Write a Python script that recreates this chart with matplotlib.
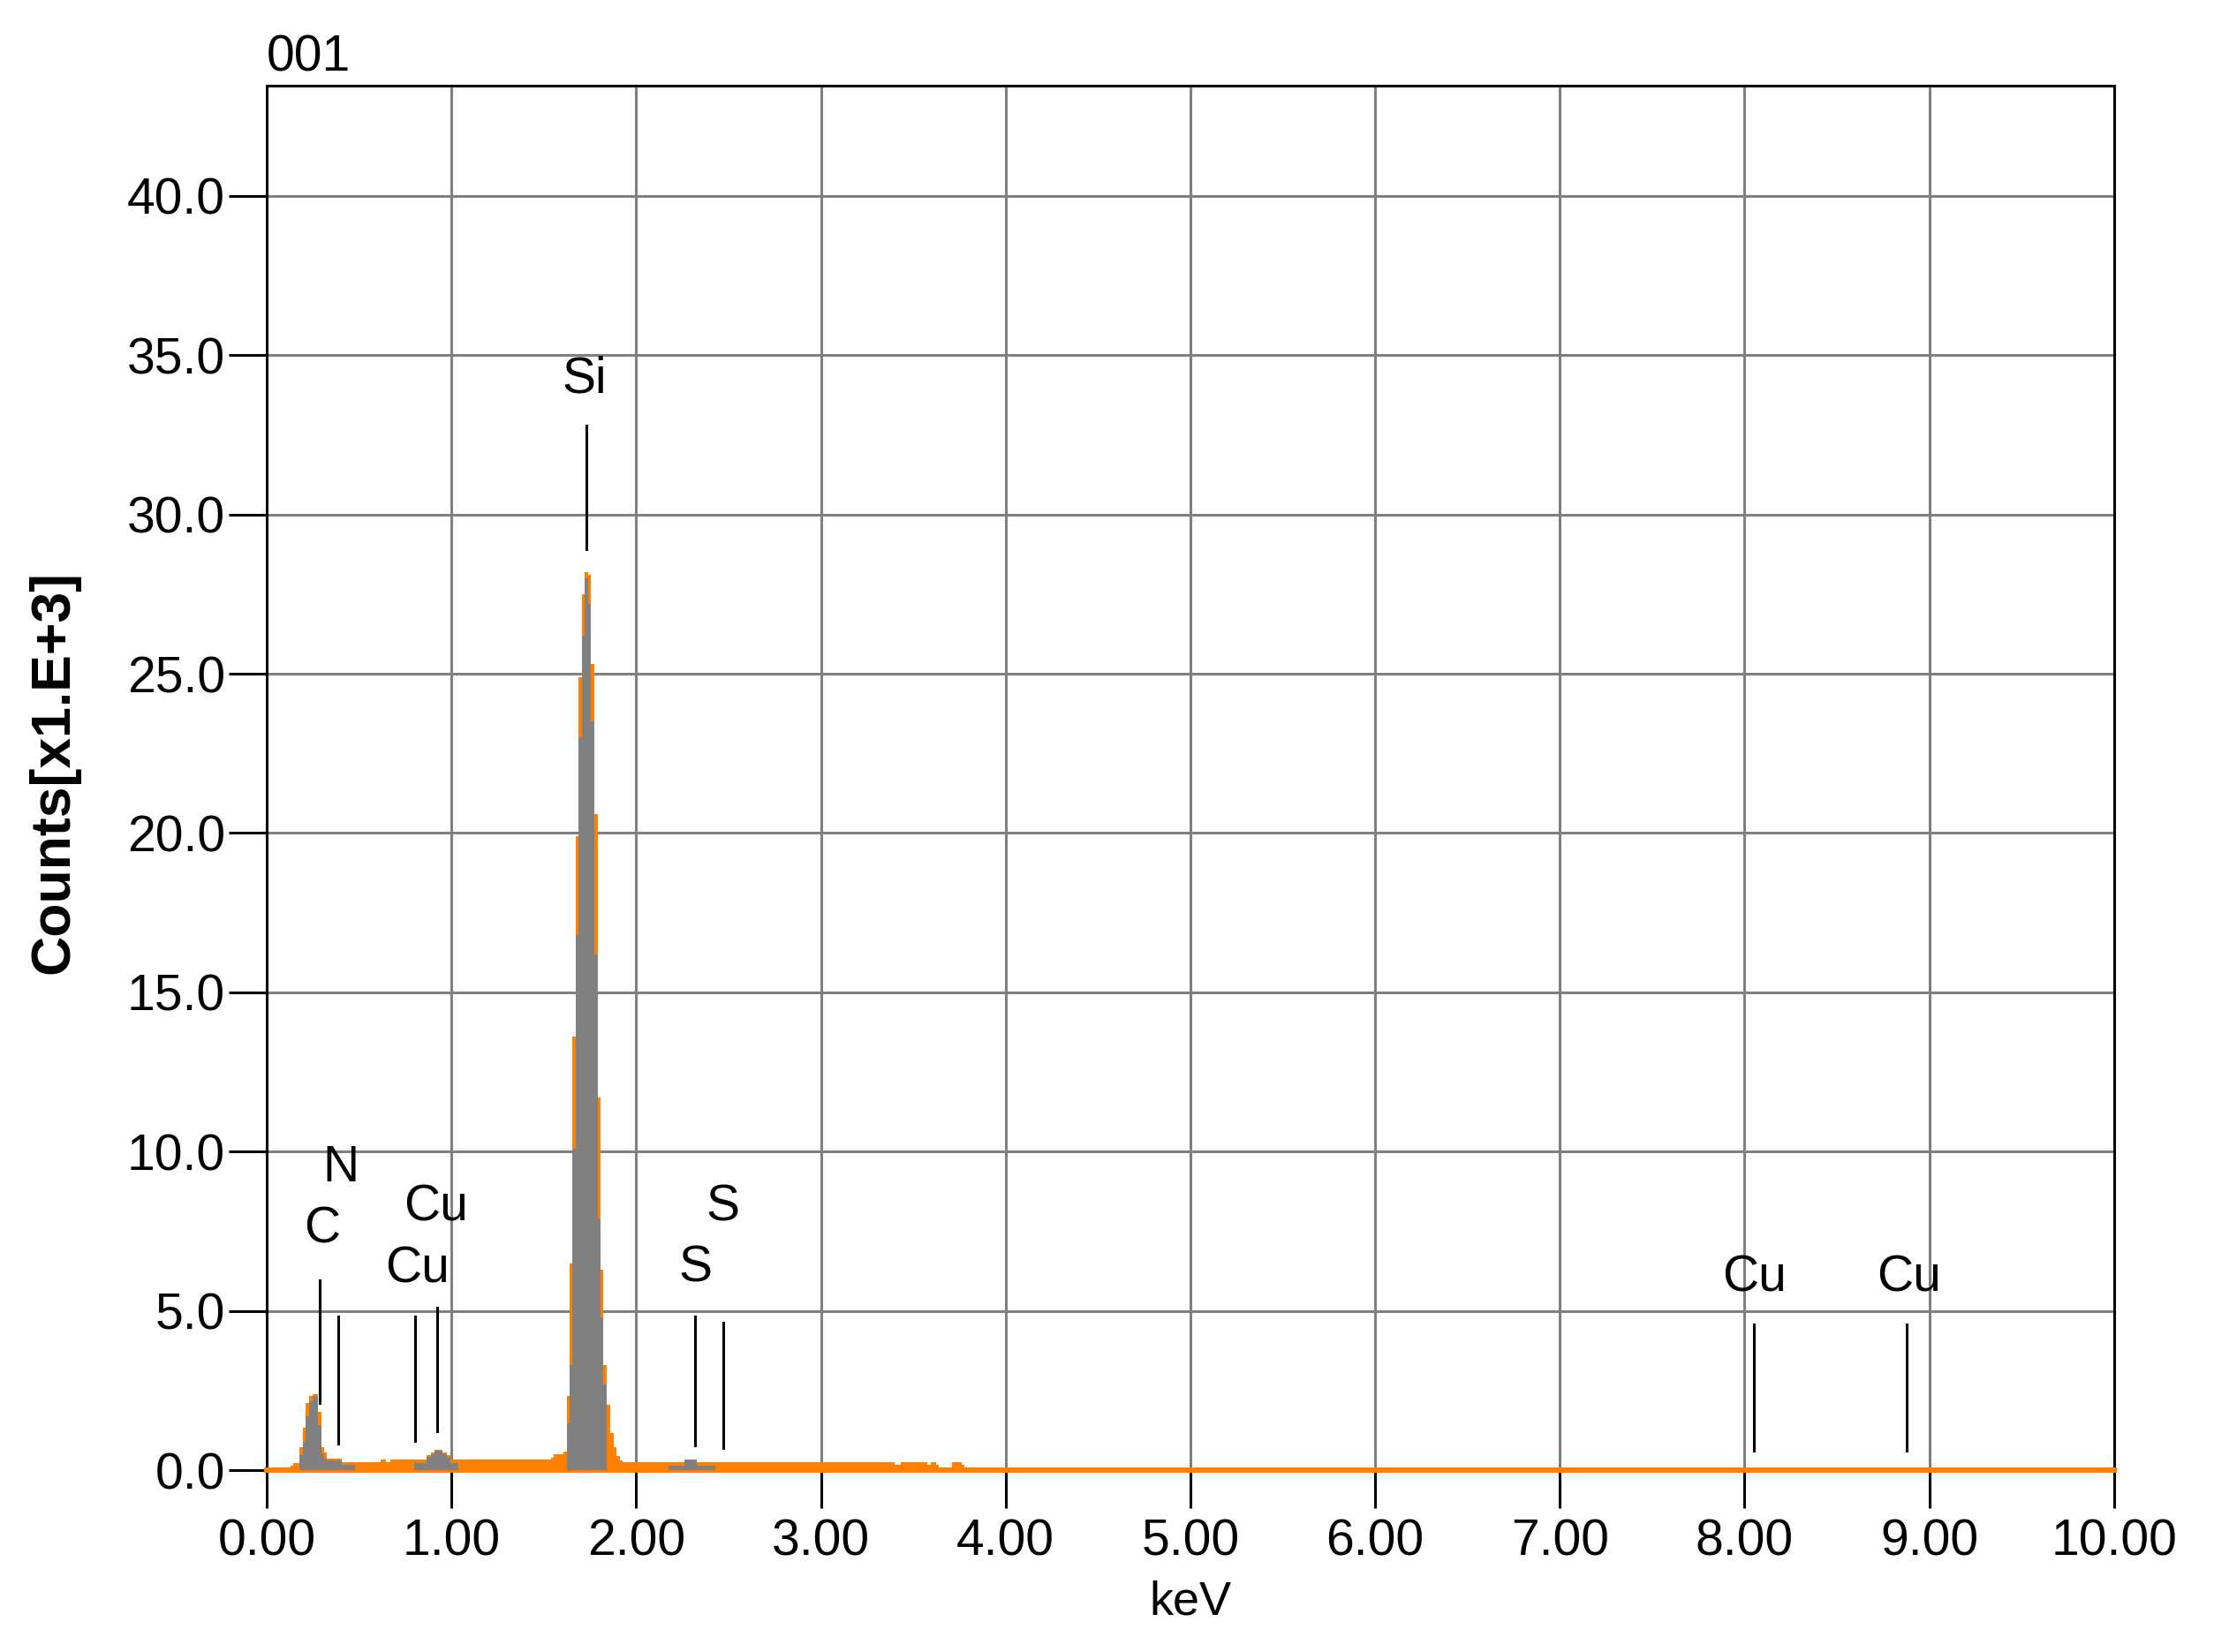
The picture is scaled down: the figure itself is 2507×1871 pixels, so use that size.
import matplotlib
matplotlib.use("Agg")
import matplotlib.pyplot as plt

plt.rcParams['font.family'] = ['Liberation Sans', 'DejaVu Sans']

# spectrum (orange), step edges in keV and counts in x1000
orange_kev = [0.0, 0.127, 0.144, 0.177, 0.195, 0.212, 0.230, 0.247, 0.279, 0.296,
              0.310, 0.327, 0.407, 0.617, 0.643, 0.669, 0.865, 0.890, 0.907, 0.950,
              0.976, 0.993, 1.539, 1.555, 1.608, 1.624, 1.640, 1.656, 1.672, 1.688,
              1.707, 1.723, 1.739, 1.755, 1.772, 1.791, 1.807, 1.823, 1.842, 1.858,
              1.879, 1.895, 1.911, 1.927, 3.401, 3.433, 3.576, 3.595, 3.624, 3.640,
              3.712, 3.760, 3.776, 10.0]
orange_cts = [0.0, 0.14, 0.23, 0.73, 1.33, 2.11, 2.34, 2.39, 1.84, 0.73,
              0.55, 0.37, 0.25, 0.34, 0.25, 0.34, 0.46, 0.55, 0.64, 0.55,
              0.46, 0.34, 0.39, 0.49, 0.58, 2.33, 6.5, 13.6, 19.9, 24.9,
              27.5, 28.2, 28.1, 25.3, 20.6, 11.7, 6.3, 3.3, 2.04, 1.17,
              0.72, 0.45, 0.3, 0.25, 0.16, 0.25, 0.16, 0.25, 0.16, 0.06,
              0.25, 0.16, 0.0]

# ROI windows (gray)
c_roi_kev = [0.177, 0.195, 0.212, 0.230, 0.247, 0.279, 0.296, 0.310, 0.327, 0.407, 0.480]
c_roi_cts = [0.46, 0.9, 1.7, 2.16, 2.3, 1.42, 0.5, 0.37, 0.3, 0.16]
cu_roi_kev = [0.797, 0.865, 0.890, 0.907, 0.950, 0.976, 0.993, 1.036]
cu_roi_cts = [0.23, 0.42, 0.5, 0.6, 0.5, 0.42, 0.23]
si_roi_kev = [1.624, 1.640, 1.656, 1.672, 1.688, 1.707, 1.723, 1.739, 1.755, 1.772,
              1.791, 1.807, 1.823, 1.842]
si_roi_cts = [1.46, 3.3, 10.1, 16.8, 23.0, 26.2, 28.0, 27.2, 23.5, 16.2, 7.9, 4.8, 2.7]
s_roi_kev = [2.177, 2.261, 2.329, 2.429]
s_roi_cts = [0.14, 0.34, 0.14]

# element markers
el_names = ['C', 'N', 'Cu', 'Cu', 'Si', 'S', 'S', 'Cu', 'Cu']
el_kev = [0.287, 0.388, 0.805, 0.922, 1.729, 2.319, 2.47, 8.05, 8.88]
el_top = [5.97, 4.83, 4.83, 5.10, 32.8, 4.81, 4.62, 4.56, 4.56]
el_bot = [2.11, 0.83, 0.92, 1.22, 28.9, 0.79, 0.68, 0.6, 0.6]
lab_kev = [0.30, 0.40, 0.815, 0.917, 1.72, 2.32, 2.47, 8.055, 8.89]
lab_cts = [7.72, 9.65, 6.48, 8.41, 34.4, 6.51, 8.42, 6.19, 6.19]

orange = '#ff8000'
gray = '#808080'
fs = 41

fig = plt.figure(figsize=(25.07, 18.71), dpi=100)
ax = fig.add_axes([0.1205, 0.1101, 0.8343, 0.8382])

ax.stairs(orange_cts, orange_kev, fill=True, color=orange, zorder=3, clip_on=False)
ax.axhline(0, color=orange, lw=4.3, zorder=3, clip_on=False)
for kev, cts in [(c_roi_kev, c_roi_cts), (cu_roi_kev, cu_roi_cts),
                 (si_roi_kev, si_roi_cts), (s_roi_kev, s_roi_cts)]:
    ax.stairs(cts, kev, fill=True, color=gray, zorder=4)

for i in range(len(el_names)):
    ax.plot([el_kev[i], el_kev[i]], [el_bot[i], el_top[i]], color='black', lw=2.2, zorder=5)
    ax.text(lab_kev[i], lab_cts[i], el_names[i], ha='center', va='center_baseline',
            fontsize=fs, zorder=6)

ax.set_xlim(0, 10)
ax.set_ylim(0, 43.47)
ax.set_xticks(range(0, 11))
ax.set_xticklabels(['%.2f' % v for v in range(0, 11)])
ax.set_yticks(range(0, 41, 5))
ax.set_yticklabels(['%.1f' % v for v in range(0, 41, 5)])
ax.tick_params(axis='both', direction='out', length=31, width=2.2, labelsize=fs, color='black')
ax.tick_params(axis='x', pad=8)
ax.tick_params(axis='y', pad=3)
ax.grid(True, color=gray, lw=2.2)
ax.set_axisbelow(True)
for sp in ax.spines.values():
    sp.set_linewidth(2.2)
    sp.set_color('black')

ax.set_xlabel('keV', fontsize=fs - 2, labelpad=12)
fig.text(61 / 2507, 1 - 875 / 1871, 'Counts[x1.E+3]', rotation=90, ha='center', va='center',
         fontsize=45, fontweight='bold')
ax.annotate('001', xy=(0, 1), xycoords='axes fraction', xytext=(0, 12),
            textcoords='offset points', ha='left', va='baseline', fontsize=fs)

fig.savefig('out.png', dpi=100)
